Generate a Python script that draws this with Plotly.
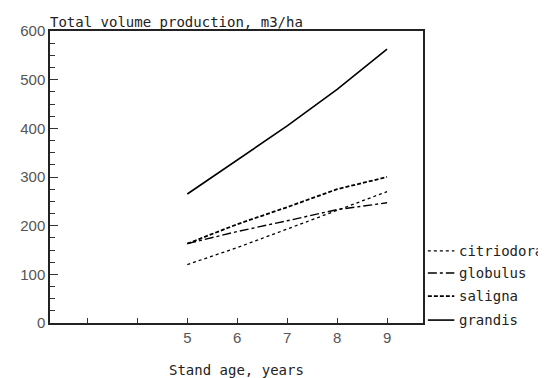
import plotly.graph_objects as go

ages = [5, 6, 7, 8, 9]
citriodora = [120, 155, 193, 232, 270]
globulus = [163, 188, 210, 233, 247]
saligna = [163, 203, 238, 275, 300]
grandis = [265, 335, 405, 480, 563]

series_names = ["citriodora", "globulus", "saligna", "grandis"]
series_values = [citriodora, globulus, saligna, grandis]
dashes = ["dot", "dashdot", "4px,2px", "solid"]
widths = [1.3, 1.4, 1.8, 1.6]

x_tickvals = [3, 4, 5, 6, 7, 8, 9]
x_ticktext = ["", "", "5", "6", "7", "8", "9"]
y_tickvals = [0, 100, 200, 300, 400, 500, 600]

title_text = "Total volume production, m3/ha"
xlabel_text = "Stand age, years"

mono = "DejaVu Sans Mono"

fig = go.Figure()
for name, vals, d, w in zip(series_names, series_values, dashes, widths):
    fig.add_trace(go.Scatter(x=ages, y=vals, mode="lines", name=name,
                             line=dict(color="black", dash=d, width=w),
                             showlegend=False))

fig.update_layout(
    width=538, height=370,
    margin=dict(l=34, r=123, t=23, b=55),
    plot_bgcolor="white", paper_bgcolor="white",
    xaxis=dict(range=[2.25, 9.72], tickvals=x_tickvals, ticktext=x_ticktext,
               ticks="inside", ticklen=5, tickcolor="#333",
               showline=True, linecolor="#222", linewidth=1.5, mirror=True,
               showgrid=False, zeroline=False,
               tickfont=dict(family="Liberation Sans", size=15, color="#555")),
    yaxis=dict(range=[0, 600], tickvals=y_tickvals,
               ticks="inside", ticklen=8, tickcolor="#333",
               minor=dict(dtick=25, ticks="inside", ticklen=5, tickcolor="#333"),
               showline=True, linecolor="#222", linewidth=1.5, mirror=True,
               showgrid=False, zeroline=False,
               tickfont=dict(family="Liberation Sans", size=15, color="#555")),
)

fig.add_annotation(text=title_text, xref="paper", yref="paper", x=0.0, y=1.0,
                   xanchor="left", yanchor="bottom", showarrow=False, xshift=-2, yshift=-1,
                   font=dict(family=mono, size=14, color="#222"))
fig.add_annotation(text=xlabel_text, xref="paper", yref="paper", x=0.5, y=0.0,
                   xanchor="center", yanchor="top", showarrow=False, yshift=-37,
                   font=dict(family=mono, size=14, color="#222"))

# manual legend
leg_y = [0.247, 0.171, 0.092, 0.010]
for name, d, w, ly in zip(series_names, dashes, widths, leg_y):
    fig.add_shape(type="line", xref="paper", yref="paper", x0=1.013, x1=1.084,
                  y0=ly, y1=ly, line=dict(color="black", dash=d, width=w))
    fig.add_annotation(text=name, xref="paper", yref="paper", x=1.09, y=ly,
                       xanchor="left", yanchor="middle", showarrow=False,
                       font=dict(family=mono, size=14, color="#222"))

fig.write_html("out.html")
